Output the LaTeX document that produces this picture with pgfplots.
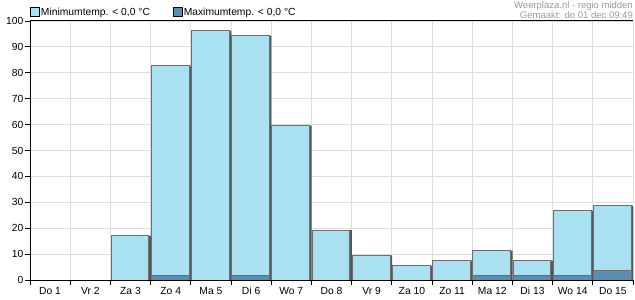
\documentclass[border=0pt]{standalone}
\usepackage{pgfplots}
\pgfplotsset{compat=1.18}
\usepackage{fontspec}
\setmainfont{Liberation Sans}
\definecolor{minc}{HTML}{AAE1F2}
\definecolor{maxc}{HTML}{5B8DB0}
\definecolor{bord}{HTML}{6E6E6E}
\definecolor{shad}{HTML}{575757}
\definecolor{gridc}{HTML}{DDDDDD}
\definecolor{credit}{HTML}{9A9A9A}
\pgfplotstableread{
x v
2.5 17.0
3.5 82.8
4.5 96.3
5.5 94.4
6.5 59.6
7.5 19.3
8.5 9.5
9.5 5.5
10.5 7.5
11.5 11.3
12.5 7.5
13.5 26.8
14.5 28.7
}\mintab
\pgfplotstableread{
x v
3.5 1.7
5.5 1.7
11.5 1.7
12.5 1.7
13.5 1.7
14.5 3.6
}\maxtab
\begin{document}
\begin{tikzpicture}
\path[use as bounding box] (-30bp,-20bp) rectangle (605bp,280bp);
\begin{axis}[
  name=ax,
  at={(0,0)}, anchor=south west,
  scale only axis, width=603bp, height=259bp,
  xmin=0, xmax=15, ymin=0, ymax=100,
  xtick={0,...,15},
  x tick label as interval,
  xticklabels={Do 1,Vr 2,Za 3,Zo 4,Ma 5,Di 6,Wo 7,Do 8,Vr 9,Za 10,Zo 11,Ma 12,Di 13,Wo 14,Do 15},
  ytick={0,10,...,100},
  /pgf/number format/assume math mode=true,
  grid=major,
  major grid style={draw=gridc, line width=0.8bp},
  axis line style={draw=none},
  xtick pos=left, ytick pos=left,
  tick align=outside,
  major tick length=5bp,
  tick style={black, line width=0.8bp},
  tick label style={font=\fontsize{10.3bp}{12bp}\selectfont},
  yticklabel style={inner sep=1.5bp},
  xticklabel style={inner sep=2bp},
  ybar, bar width=0.94,
  legend style={at={(0,1)}, anchor=south west, yshift=3bp, xshift=0bp,
    draw=none, fill=none, inner sep=0pt,
    font=\fontsize{10.3bp}{12bp}\selectfont,
    nodes={inner sep=1bp},
    /tikz/every even column/.append style={column sep=22bp}},
  legend columns=2,
  legend cell align=left,
  legend image code/.code={\draw[#1, draw=black, line width=0.8bp] (0bp,-4.5bp) rectangle (9bp,4.5bp);},
]
\addplot[fill=shad, draw=none, bar shift=1.5bp, forget plot] table[x=x,y=v] {\mintab};
\addplot[fill=minc, draw=bord, line width=1bp, bar shift=-0.5bp] table[x=x,y=v] {\mintab};
\addplot[fill=maxc, draw=bord, line width=1bp, bar shift=-0.5bp] table[x=x,y=v] {\maxtab};
\legend{{Minimumtemp. < 0,0 °C}, {Maximumtemp. < 0,0 °C}}
\end{axis}
\draw[black, line width=1bp] (ax.north west) -- (ax.south west) -- (ax.south east);
\draw[black, line width=1bp] (ax.north west) -- (ax.north east);
\node[anchor=south east, align=right, inner sep=0pt, text=credit,
  font=\fontsize{9.5bp}{10bp}\selectfont, yshift=2bp] at (ax.north east)
  {Weerplaza.nl - regio midden\\Gemaakt: do 01 dec 09:49};
\end{tikzpicture}
\end{document}
